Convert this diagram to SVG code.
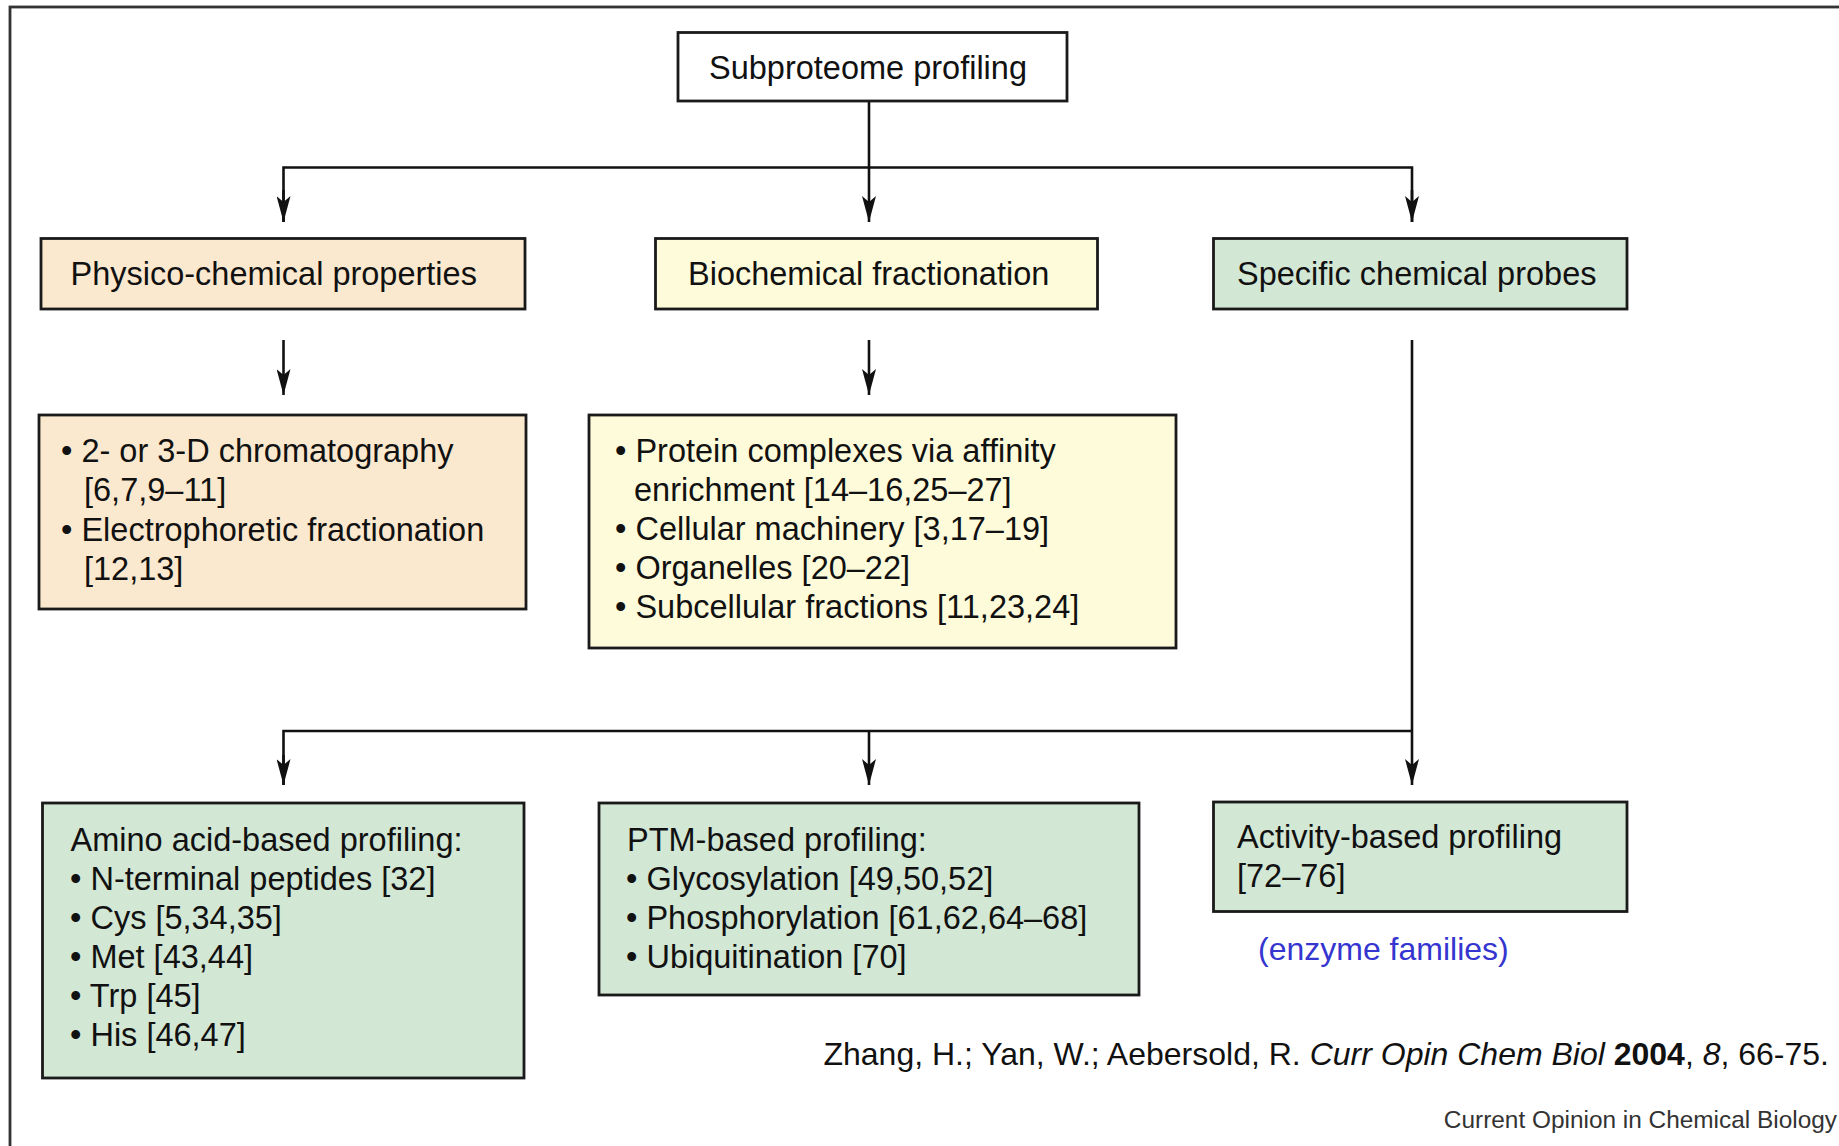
<svg xmlns="http://www.w3.org/2000/svg" width="1839" height="1146" viewBox="0 0 1839 1146">
<style>
text{font-family:"Liberation Sans",Arial,Helvetica,sans-serif;font-size:32.5px;fill:#111}
.box{stroke:#1a1a1a;stroke-width:2.8}
.white{fill:#ffffff}
.peach{fill:#FBE9CF}
.yellow{fill:#FEFBDB}
.green{fill:#D3E7D5}
.conn{fill:none;stroke:#111;stroke-width:2.6}
.blue{fill:#3535D0;font-size:32px}
.cite{font-size:32px}
.small{font-size:24.4px;fill:#333}
</style>
<defs>
<marker id="arr" markerUnits="userSpaceOnUse" viewBox="0 0 26 14" refX="26" refY="7" markerWidth="26" markerHeight="14" orient="auto">
<path d="M0,0 L26,7 L0,14 L6,7 z" fill="#111"/>
</marker>
</defs>
<rect x="10" y="7" width="1900" height="1200" fill="#ffffff" stroke="#333" stroke-width="2.8"/>
<g id="connectors" class="conn">
<line x1="869" y1="101" x2="869" y2="222" marker-end="url(#arr)"/>
<polyline points="283.5,222 283.5,167.5 1412,167.5 1412,222"/>
<line x1="283.5" y1="190" x2="283.5" y2="222" marker-end="url(#arr)"/>
<line x1="1412" y1="190" x2="1412" y2="222" marker-end="url(#arr)"/>
<line x1="283.5" y1="340" x2="283.5" y2="395" marker-end="url(#arr)"/>
<line x1="869" y1="340" x2="869" y2="395" marker-end="url(#arr)"/>
<line x1="1412" y1="340" x2="1412" y2="785" marker-end="url(#arr)"/>
<polyline points="283.5,785 283.5,731 1412,731"/>
<line x1="283.5" y1="755" x2="283.5" y2="785" marker-end="url(#arr)"/>
<line x1="869" y1="731" x2="869" y2="785" marker-end="url(#arr)"/>
</g>
<g id="subproteome">
<rect class="box white" x="678" y="32.5" width="389" height="68.5"/>
<text x="709" y="78.5">Subproteome profiling</text>
</g>
<g id="physico">
<rect class="box peach" x="41" y="238.5" width="484" height="70.5"/>
<text x="70.5" y="285">Physico-chemical properties</text>
</g>
<g id="biochemical">
<rect class="box yellow" x="655.5" y="238.5" width="442" height="70.5"/>
<text x="688" y="285">Biochemical fractionation</text>
</g>
<g id="specific">
<rect class="box green" x="1213.5" y="238.5" width="413.5" height="70.5"/>
<text x="1237" y="285">Specific chemical probes</text>
</g>
<g id="physico-list">
<rect class="box peach" x="39" y="415" width="487" height="194"/>
<text x="61" y="461.5">• 2- or 3-D chromatography</text>
<text x="84" y="501">[6,7,9–11]</text>
<text x="61" y="540.5">• Electrophoretic fractionation</text>
<text x="84" y="580">[12,13]</text>
</g>
<g id="biochemical-list">
<rect class="box yellow" x="589" y="415" width="587" height="233"/>
<text x="615" y="461.5">• Protein complexes via affinity</text>
<text x="634" y="500.5">enrichment [14–16,25–27]</text>
<text x="615" y="539.5">• Cellular machinery [3,17–19]</text>
<text x="615" y="578.5">• Organelles [20–22]</text>
<text x="615" y="617.5">• Subcellular fractions [11,23,24]</text>
</g>
<g id="amino">
<rect class="box green" x="42.5" y="803" width="481.5" height="275"/>
<text x="70.5" y="850.5">Amino acid-based profiling:</text>
<text x="70" y="889.5">• N-terminal peptides [32]</text>
<text x="70" y="928.5">• Cys [5,34,35]</text>
<text x="70" y="967.5">• Met [43,44]</text>
<text x="70" y="1006.5">• Trp [45]</text>
<text x="70" y="1045.5">• His [46,47]</text>
</g>
<g id="ptm">
<rect class="box green" x="599" y="803" width="540" height="192"/>
<text x="627" y="850.5">PTM-based profiling:</text>
<text x="626" y="889.5">• Glycosylation [49,50,52]</text>
<text x="626" y="928.5">• Phosphorylation [61,62,64–68]</text>
<text x="626" y="967.5">• Ubiquitination [70]</text>
</g>
<g id="activity">
<rect class="box green" x="1213.5" y="802" width="413.5" height="109.5"/>
<text x="1237" y="848">Activity-based profiling</text>
<text x="1237" y="887">[72–76]</text>
</g>
<text class="blue" x="1258" y="960">(enzyme families)</text>
<text class="cite" x="1829" y="1065" text-anchor="end">Zhang, H.; Yan, W.; Aebersold, R. <tspan font-style="italic">Curr Opin Chem Biol</tspan> <tspan font-weight="bold">2004</tspan>, <tspan font-style="italic">8</tspan>, 66-75.</text>
<text class="small" x="1837" y="1128" text-anchor="end">Current Opinion in Chemical Biology</text>
</svg>
